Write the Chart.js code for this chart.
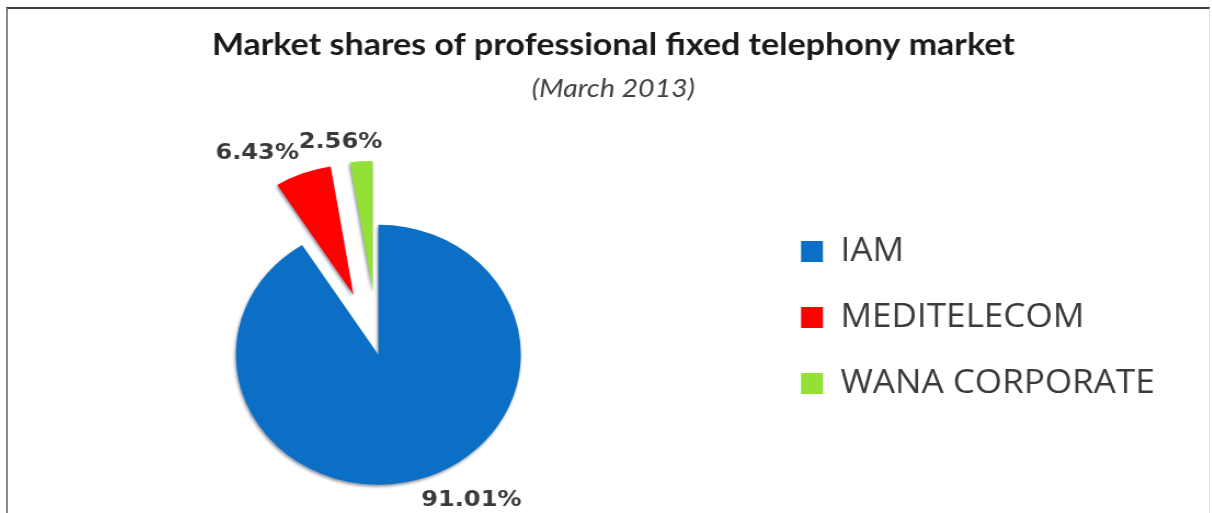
<!DOCTYPE html>
<html>
<head>
<meta charset="utf-8">
<script src="https://cdn.jsdelivr.net/npm/chart.js@4.4.1/dist/chart.umd.min.js"></script>
<style>
  html, body { margin: 0; padding: 0; background: #fff; overflow: hidden; }
  #page { position: relative; width: 1212px; height: 513px; overflow: hidden; }
  /* source picture is stretched ~1.1x horizontally, so is the canvas */
  #stretch { position: absolute; left: -6.6px; top: 0; width: 1132px; height: 513px; transform: scaleX(1.096); transform-origin: 0 0; }
  #frame { position: absolute; left: 6px; top: 7px; right: 2px; bottom: -5px;
           border-top: 2px solid #3c3c3c; border-left: 2px solid #8a8a8a; border-right: 1px solid #e2e2e2; }
</style>
</head>
<body>
<div id="page">
  <div id="stretch"><canvas id="myChart" width="1132" height="513"></canvas></div>
  <div id="frame"></div>
</div>
<script>
var labels = ['IAM', 'MEDITELECOM', 'WANA CORPORATE'];
var shares = [91.01, 6.43, 2.56];          // % of market, March 2013
var colors = ['#0B6FC5', '#FF0000', '#93E136'];

var explodeDist = [0, 64, 64];             // pulled out slices
var labelNudge = [[0, 0], [0, 0], [20, 2]];

// moves the exploded arcs out along their middle angle
const explodePlugin = {
    id: 'explode',
    afterDatasetsUpdate(chart, args, opts) {
        chart.getDatasetMeta(0).data.forEach((arc, i) => {
            const d = opts.distance[i] || 0;
            const mid = (arc.startAngle + arc.endAngle) / 2;
            arc.x += Math.cos(mid) * d;
            arc.y += Math.sin(mid) * d;
        });
    }
};

// soft dark rim under the slices (the original has a 3D look)
const sliceShadow = {
    id: 'sliceShadow',
    beforeDatasetsDraw(chart, args, opts) {
        const ctx = chart.ctx;
        ctx.save();
        ctx.shadowColor = opts.color;
        ctx.shadowBlur = opts.blur;
        ctx.shadowOffsetX = opts.x;
        ctx.shadowOffsetY = opts.y;
    },
    afterDatasetsDraw(chart) {
        chart.ctx.restore();
    }
};

// percentage labels at the outer end of each slice
const sliceLabels = {
    id: 'sliceLabels',
    afterDatasetsDraw(chart, args, opts) {
        const ctx = chart.ctx;
        const values = chart.data.datasets[0].data;
        ctx.save();
        ctx.font = opts.font;
        ctx.fillStyle = opts.color;
        chart.getDatasetMeta(0).data.forEach((arc, i) => {
            const mid = (arc.startAngle + arc.endAngle) / 2;
            const c = Math.cos(mid), s = Math.sin(mid);
            const r = arc.outerRadius + opts.gap;
            const n = opts.nudge[i] || [0, 0];
            ctx.textAlign = c >= 0 ? 'left' : 'right';
            ctx.textBaseline = s >= 0 ? 'top' : 'bottom';
            ctx.fillText(values[i].toFixed(2) + '%', arc.x + c * r + n[0], arc.y + s * r + n[1]);
        });
        ctx.restore();
    }
};

// empty box right of the legend so the title stays centred on the page
const legendSpacer = {
    id: 'legendSpacer',
    beforeInit(chart, args, opts) {
        Chart.layouts.addBox(chart, {
            position: 'right', weight: 2000, fullSize: false, options: {display: false},
            left: 0, top: 0, right: 0, bottom: 0, width: 0, height: 0,
            isHorizontal() { return false; },
            update(maxWidth, maxHeight) { this.width = opts.width; this.height = maxHeight; },
            getPadding() { return {left: 0, top: 0, right: 0, bottom: 0}; },
            draw() {}
        });
    }
};

var data = {
    labels: labels,
    datasets: [{
        data: shares,
        backgroundColor: colors,
        borderWidth: 0
    }]
};

const config = {
    type: 'pie',
    data: data,
    options: {
        responsive: false,
        animation: false,
        events: [],
        radius: 130,
        layout: {padding: {left: 0, right: 0, top: 0, bottom: 5}},
        plugins: {
            title: {
                display: true,
                text: 'Market shares of professional fixed telephony market',
                color: '#1a1a1a',
                font: {family: 'Lato', size: 31, weight: 'bold'},
                padding: {top: 26, bottom: 4}
            },
            subtitle: {
                display: true,
                text: '(March 2013)',
                color: '#404040',
                font: {family: 'Lato', size: 26, style: 'italic'},
                padding: {top: 6, bottom: 97}
            },
            legend: {
                position: 'right',
                align: 'start',
                fullSize: false,
                labels: {
                    boxWidth: 20,
                    boxHeight: 21,
                    padding: 34,
                    color: '#3a3a3a',
                    font: {family: 'Open Sans', size: 32}
                }
            },
            tooltip: {enabled: false},
            explode: {distance: explodeDist},
            sliceShadow: {color: 'rgba(0, 20, 60, 0.45)', blur: 3, x: -1, y: 2},
            sliceLabels: {font: 'bold 22px "DejaVu Sans"', color: '#3a3a3a', gap: 10, nudge: labelNudge},
            legendSpacer: {width: 62}
        }
    },
    plugins: [legendSpacer, explodePlugin, sliceShadow, sliceLabels]
};

const myChart = new Chart(document.getElementById('myChart'), config);
</script>
</body>
</html>
